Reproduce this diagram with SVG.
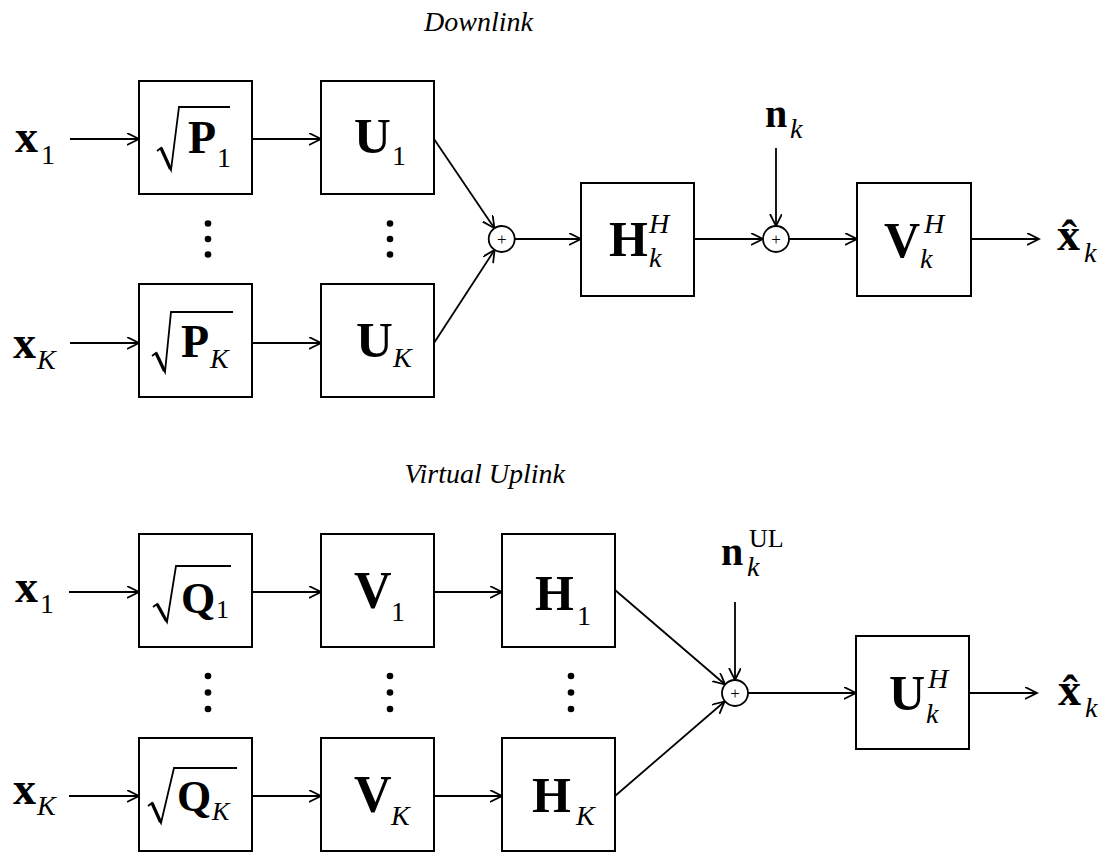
<svg xmlns="http://www.w3.org/2000/svg" width="1107" height="852" viewBox="0 0 1107 852">
<defs>
<marker id="arr" markerWidth="14" markerHeight="14" refX="12" refY="6" orient="auto" markerUnits="userSpaceOnUse">
<path d="M0,0 L12,6 L0,12" fill="none" stroke="#000" stroke-width="1.8"/>
</marker>
<style>
.box{fill:#fff;stroke:#000;stroke-width:2}
.cn{fill:none;stroke:#000;stroke-width:1.8;marker-end:url(#arr)}
.sum{fill:#fff;stroke:#000;stroke-width:1.8}
.rad{fill:none;stroke:#000;stroke-width:1.8;stroke-linejoin:miter}
.radt{fill:none;stroke:#000;stroke-width:3.2}
.b{font-family:"Liberation Serif",serif;font-weight:bold;fill:#000}
.i{font-family:"Liberation Serif",serif;font-style:italic;fill:#000}
.r{font-family:"Liberation Serif",serif;fill:#000}
.t{font-family:"Liberation Serif",serif;font-style:italic;font-size:28px;fill:#000}
.plus{font-family:"Liberation Serif",serif;font-size:17px;fill:#000;text-anchor:middle}
</style>
</defs>
<rect width="1107" height="852" fill="#fff"/>

<text class="t" x="533" y="31" text-anchor="end">Downlink</text>
<text class="t" x="565" y="483" text-anchor="end">Virtual Uplink</text>

<g id="connectors">
<line class="cn" x1="70" y1="139" x2="139" y2="139"/>
<line class="cn" x1="252" y1="139" x2="321" y2="139"/>
<line class="cn" x1="70" y1="343" x2="139" y2="343"/>
<line class="cn" x1="252" y1="343" x2="321" y2="343"/>
<line class="cn" x1="434" y1="139" x2="494.4" y2="228.2"/>
<line class="cn" x1="434" y1="343" x2="494.6" y2="249.9"/>
<line class="cn" x1="515" y1="239" x2="581" y2="239"/>
<line class="cn" x1="694" y1="239" x2="763" y2="239"/>
<line class="cn" x1="776" y1="148" x2="776" y2="226"/>
<line class="cn" x1="789" y1="239" x2="857" y2="239"/>
<line class="cn" x1="971" y1="239" x2="1039" y2="239"/>

<line class="cn" x1="69" y1="592" x2="139" y2="592"/>
<line class="cn" x1="252" y1="592" x2="321" y2="592"/>
<line class="cn" x1="434" y1="592" x2="502" y2="592"/>
<line class="cn" x1="69" y1="796" x2="139" y2="796"/>
<line class="cn" x1="252" y1="796" x2="321" y2="796"/>
<line class="cn" x1="434" y1="796" x2="502" y2="796"/>
<line class="cn" x1="615" y1="590" x2="725.1" y2="684.5"/>
<line class="cn" x1="615" y1="796" x2="724.6" y2="701.5"/>
<line class="cn" x1="735" y1="602" x2="735" y2="680"/>
<line class="cn" x1="748" y1="693" x2="856" y2="693"/>
<line class="cn" x1="969" y1="693" x2="1037" y2="693"/>
</g>

<g id="in-x1-dl">
<text class="b" x="15" y="152" font-size="46">x</text><text class="r" x="41" y="164" font-size="28">1</text>
</g>
<g id="in-xK-dl">
<text class="b" x="13" y="358" font-size="46">x</text><text class="i" x="37" y="369" font-size="28">K</text>
</g>

<g id="node-P1">
<rect class="box" x="139" y="81" width="113" height="113"/>
<path class="rad" d="M157,151 L161,148 L171,170 L179,107 L230,107"/>
<line class="radt" x1="161" y1="148" x2="170.5" y2="169"/>
<text class="b" x="188" y="153" font-size="46">P</text><text class="r" x="217" y="167" font-size="28">1</text>
</g>
<g id="node-PK">
<rect class="box" x="139" y="284" width="113" height="113"/>
<path class="rad" d="M152,356 L156,353 L165,372 L171,312 L233,312"/>
<line class="radt" x1="156" y1="353" x2="164.5" y2="371"/>
<text class="b" x="181" y="357" font-size="46">P</text><text class="i" x="210" y="368" font-size="28">K</text>
</g>
<g id="node-U1">
<rect class="box" x="321" y="81" width="113" height="113"/>
<text class="b" x="354" y="153" font-size="51">U</text><text class="r" x="392" y="165" font-size="28">1</text>
</g>
<g id="node-UK">
<rect class="box" x="321" y="284" width="113" height="113"/>
<text class="b" x="356" y="357" font-size="51">U</text><text class="i" x="393" y="367" font-size="28">K</text>
</g>
<g id="dots-dl">
<circle cx="208" cy="223.5" r="3.3"/><circle cx="208" cy="239" r="3.3"/><circle cx="208" cy="254.5" r="3.3"/>
<circle cx="390" cy="223.5" r="3.3"/><circle cx="390" cy="239" r="3.3"/><circle cx="390" cy="254.5" r="3.3"/>
</g>
<g id="sum1-dl">
<circle class="sum" cx="501.7" cy="239" r="13"/><text class="plus" x="501.7" y="245">+</text>
</g>
<g id="node-HkH">
<rect class="box" x="581" y="183" width="113" height="113"/>
<text class="b" x="609" y="256" font-size="50">H</text>
<text class="i" x="649" y="233" font-size="28">H</text><text class="i" x="649" y="267" font-size="28">k</text>
</g>
<g id="noise-dl">
<text class="b" x="765" y="127" font-size="40">n</text><text class="i" x="790" y="138" font-size="28">k</text>
</g>
<g id="sum2-dl">
<circle class="sum" cx="776" cy="239" r="13"/><text class="plus" x="776" y="245">+</text>
</g>
<g id="node-VkH">
<rect class="box" x="857" y="183" width="114" height="113"/>
<text class="b" x="884" y="257" font-size="50">V</text>
<text class="i" x="924" y="233" font-size="28">H</text><text class="i" x="920" y="268" font-size="28">k</text>
</g>
<g id="out-dl">
<text class="b" x="1057" y="250" font-size="46">x&#x302;</text><text class="i" x="1084" y="262" font-size="28">k</text>
</g>

<g id="in-x1-ul">
<text class="b" x="15" y="602" font-size="46">x</text><text class="r" x="40" y="613" font-size="28">1</text>
</g>
<g id="in-xK-ul">
<text class="b" x="13" y="804" font-size="46">x</text><text class="i" x="37" y="815" font-size="28">K</text>
</g>
<g id="node-Q1">
<rect class="box" x="139" y="534" width="113" height="113"/>
<path class="rad" d="M153,607 L157,604 L167,622 L176,566 L231,566"/>
<line class="radt" x1="157" y1="604" x2="166.5" y2="621"/>
<text class="b" x="181" y="613" font-size="44">Q</text><text class="r" x="216" y="618" font-size="26">1</text>
</g>
<g id="node-QK">
<rect class="box" x="139" y="738" width="113" height="113"/>
<path class="rad" d="M148,806 L152,803 L161,823 L174,768 L237,768"/>
<line class="radt" x1="152" y1="803" x2="160.5" y2="822"/>
<text class="b" x="177" y="811" font-size="44">Q</text><text class="i" x="212" y="820" font-size="26">K</text>
</g>
<g id="node-V1">
<rect class="box" x="321" y="534" width="113" height="113"/>
<text class="b" x="354" y="608" font-size="52">V</text><text class="r" x="391" y="621" font-size="28">1</text>
</g>
<g id="node-VK">
<rect class="box" x="321" y="738" width="113" height="113"/>
<text class="b" x="354" y="812" font-size="52">V</text><text class="i" x="391" y="825" font-size="28">K</text>
</g>
<g id="node-H1">
<rect class="box" x="502" y="534" width="113" height="113"/>
<text class="b" x="535" y="610" font-size="50">H</text><text class="r" x="577" y="625" font-size="28">1</text>
</g>
<g id="node-HK">
<rect class="box" x="502" y="738" width="113" height="113"/>
<text class="b" x="532" y="812" font-size="50">H</text><text class="i" x="576" y="825" font-size="28">K</text>
</g>
<g id="dots-ul">
<circle cx="208" cy="676" r="3.3"/><circle cx="208" cy="692.5" r="3.3"/><circle cx="208" cy="709" r="3.3"/>
<circle cx="390" cy="676" r="3.3"/><circle cx="390" cy="692.5" r="3.3"/><circle cx="390" cy="709" r="3.3"/>
<circle cx="571" cy="676" r="3.3"/><circle cx="571" cy="692.5" r="3.3"/><circle cx="571" cy="709" r="3.3"/>
</g>
<g id="noise-ul">
<text class="b" x="721" y="565" font-size="40">n</text><text class="r" x="749" y="547" font-size="26">UL</text><text class="i" x="747" y="576" font-size="28">k</text>
</g>
<g id="sum-ul">
<circle class="sum" cx="735" cy="693" r="13"/><text class="plus" x="735" y="699">+</text>
</g>
<g id="node-UkH">
<rect class="box" x="856" y="636" width="113" height="113"/>
<text class="b" x="889" y="710" font-size="50">U</text>
<text class="i" x="928" y="688" font-size="28">H</text><text class="i" x="926" y="723" font-size="28">k</text>
</g>
<g id="out-ul">
<text class="b" x="1058" y="705" font-size="46">x&#x302;</text><text class="i" x="1085" y="717" font-size="28">k</text>
</g>
</svg>
